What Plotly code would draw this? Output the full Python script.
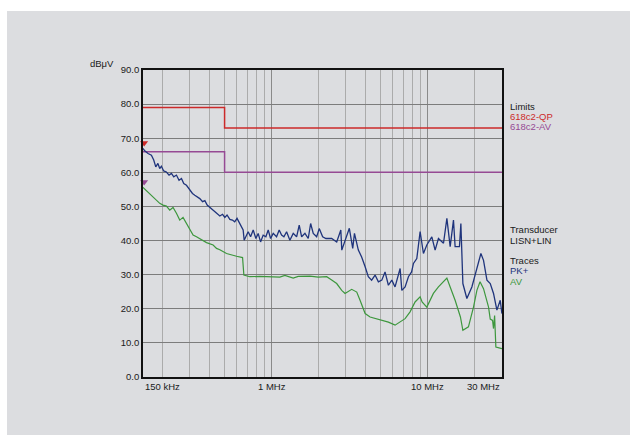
import math
import plotly.graph_objects as go

# ---------------- data ----------------
pk_freq_mhz = [0.150, 0.1538, 0.1616, 0.1698, 0.1757, 0.1811, 0.1869, 0.1920, 0.1967, 0.2036,
               0.2120, 0.2203, 0.2283, 0.2362, 0.2457, 0.2553, 0.2646, 0.2738, 0.2849, 0.2991,
               0.3113, 0.3222, 0.3334, 0.3468, 0.3614, 0.3738, 0.3868, 0.4021, 0.4184, 0.4328,
               0.4475, 0.4662, 0.4852, 0.5019, 0.5185, 0.5404, 0.5613, 0.5807, 0.6009, 0.6265,
               0.6423, 0.6577, 0.6676, 0.6847, 0.7083, 0.7340, 0.7627, 0.7938, 0.8209, 0.8505,
               0.8838, 0.9198, 0.9518, 0.9862, 1.0249, 1.077, 1.1193, 1.1597, 1.1999, 1.2488,
               1.311, 1.377, 1.4478, 1.5045, 1.559, 1.637, 1.7187, 1.7806, 1.851, 1.9462,
               2.0217, 2.1256, 2.2317, 2.343, 2.429, 2.616, 2.78, 2.82, 2.958, 3.152,
               3.314, 3.40, 3.60, 3.78, 3.98, 4.17, 4.38, 4.61, 4.84, 5.09,
               5.34, 5.61, 5.90, 6.19, 6.67, 6.84, 7.18, 7.54, 7.90, 8.12,
               8.53, 8.96, 9.41, 9.89, 10.65, 11.18, 11.74, 12.65, 13.30, 13.96,
               14.66, 15.02, 16.01, 16.35, 16.84, 17.86, 19.23, 20.71, 21.97, 22.84,
               24.02, 25.22, 26.47, 27.83, 29.22, 29.97]
pk_dbuv = [67.0, 66.3, 65.5, 65.0, 63.6, 61.6, 62.6, 61.1, 61.8, 60.4,
           60.1, 59.2, 59.7, 58.7, 59.2, 57.7, 58.2, 56.7, 56.2, 54.8,
           53.8, 53.3, 52.8, 52.3, 51.4, 51.7, 50.4, 49.7, 48.9, 48.4,
           47.9, 47.2, 47.7, 46.8, 47.5, 46.2, 46.0, 45.5, 46.5, 45.0,
           44.0, 43.1, 40.1, 41.1, 42.6, 41.1, 43.1, 40.6, 42.1, 39.6,
           41.6, 41.1, 43.1, 40.6, 42.1, 41.1, 43.1, 41.6, 41.1, 42.6,
           40.1, 42.1, 41.1, 44.5, 41.1, 42.1, 40.6, 45.0, 42.1, 41.1,
           43.5, 41.1, 40.6, 40.6, 40.6, 39.6, 43.1, 37.2, 40.0, 43.6,
           37.7, 42.1, 37.2, 35.2, 32.3, 29.4, 28.4, 29.9, 27.9, 28.4,
           30.8, 26.9, 28.4, 26.4, 31.8, 25.4, 26.4, 29.4, 30.8, 33.3,
           34.7, 42.6, 36.2, 38.7, 41.1, 37.2, 40.6, 39.2, 46.5, 38.2,
           46.0, 38.2, 38.2, 45.0, 27.4, 23.0, 26.4, 32.3, 36.2, 34.2,
           28.4, 27.4, 24.5, 19.6, 22.5, 18.6]

av_freq_mhz = [0.150, 0.1656, 0.1739, 0.1829, 0.1920, 0.2016, 0.2120, 0.2226, 0.2337, 0.2457,
               0.2580, 0.2709, 0.2849, 0.2991, 0.3141, 0.3303, 0.3468, 0.3830, 0.4222, 0.4440,
               0.4662, 0.5147, 0.5967, 0.6520, 0.6646, 0.7257, 0.8409, 1.000, 1.130, 1.217,
               1.377, 1.483, 1.763, 1.993, 2.257, 2.429, 2.616, 2.817, 2.958, 3.264,
               3.516, 3.692, 3.98, 4.28, 4.73, 5.34, 5.61, 6.19, 6.67, 7.18,
               7.725, 8.316, 8.96, 9.225, 9.89, 10.90, 11.74, 12.65, 13.30, 13.96,
               15.02, 16.24, 16.84, 18.28, 19.70, 20.71, 21.70, 22.84, 24.60, 25.22,
               26.10, 26.47, 26.90, 27.40, 28.50, 29.97]
av_dbuv = [55.6, 53.8, 52.8, 52.0, 50.9, 50.4, 50.1, 48.9, 49.7, 48.0,
           46.0, 46.8, 45.0, 43.1, 41.6, 41.1, 40.6, 39.4, 38.7, 37.7,
           37.3, 36.2, 35.4, 35.0, 29.9, 29.4, 29.5, 29.5, 29.3, 29.8,
           29.0, 29.5, 29.6, 29.3, 29.4, 28.4, 27.4, 25.4, 24.5, 25.7,
           24.9, 22.5, 18.6, 17.6, 17.1, 16.5, 16.1, 15.2, 16.1, 17.1,
           19.1, 22.0, 23.5, 22.0, 20.5, 24.5, 26.4, 28.0, 29.0, 26.4,
           22.5, 17.6, 13.7, 14.7, 20.5, 25.4, 27.9, 25.9, 20.5, 17.0,
           16.6, 14.2, 18.0, 8.8, 8.5, 8.3]

limit_freq_mhz = [0.15, 0.5, 30.0]
limit_qp_dbuv = [79.0, 73.0, 73.0]
limit_av_dbuv = [66.0, 60.0, 60.0]

marker_freq_mhz = [0.1525, 0.1525]
marker_dbuv = [68.6, 57.2]

y_tick_vals = [0, 10, 20, 30, 40, 50, 60, 70, 80, 90]
y_tick_text = ["0.0", "10.0", "20.0", "30.0", "40.0", "50.0", "60.0", "70.0", "80.0", "90.0"]
x_tick_vals = [0.15, 1, 10, 30]
x_tick_text = ["150 kHz", "1 MHz", "10 MHz", "30 MHz"]
x_minor_grid = [0.2, 0.3, 0.4, 0.5, 0.6, 0.7, 0.8, 0.9, 2, 3, 4, 5, 6, 7, 8, 9, 20]
x_major_grid = [1, 10]

# ---------------- styles ----------------
BG = "#dcdde0"
FONT = "Liberation Sans, Arial, sans-serif"
RED = "#cc2a2a"
PURPLE = "#964a94"
BLUE = "#1f347c"
GREEN = "#3d973d"
TXT = "#1a1a1a"

fig = go.Figure()

fig.add_trace(go.Scatter(x=limit_freq_mhz, y=limit_qp_dbuv, mode="lines", line_shape="hv",
                         line=dict(color=RED, width=1.5), showlegend=False))
fig.add_trace(go.Scatter(x=limit_freq_mhz, y=limit_av_dbuv, mode="lines", line_shape="hv",
                         line=dict(color=PURPLE, width=1.5), showlegend=False))
fig.add_trace(go.Scatter(x=av_freq_mhz, y=av_dbuv, mode="lines",
                         line=dict(color=GREEN, width=1.2), showlegend=False))
fig.add_trace(go.Scatter(x=pk_freq_mhz, y=pk_dbuv, mode="lines",
                         line=dict(color=BLUE, width=1.3), showlegend=False))
fig.add_trace(go.Scatter(x=marker_freq_mhz, y=marker_dbuv, mode="markers", cliponaxis=False,
                         marker=dict(symbol="triangle-down", size=7, color=[RED, PURPLE],
                                     line=dict(width=0)), showlegend=False))

fig.update_xaxes(type="log", range=[math.log10(0.15), math.log10(30)],
                 tickvals=x_major_grid, showticklabels=False, ticks="",
                 showgrid=True, gridcolor="#8a8a8a", gridwidth=1.3,
                 minor=dict(tickvals=x_minor_grid, showgrid=True, gridcolor="#ababab",
                            gridwidth=1.3, ticks=""),
                 showline=True, linecolor="#111111", linewidth=1.6, mirror=True,
                 zeroline=False)
fig.update_yaxes(range=[0, 90], tickvals=y_tick_vals, ticktext=y_tick_text, ticks="",
                 showgrid=True, gridcolor="#7c7c7c", gridwidth=1.3,
                 showline=True, linecolor="#111111", linewidth=1.6, mirror=True,
                 zeroline=False, tickfont=dict(family=FONT, size=9.5, color=TXT))

annotations = []
x_anchors = ["left", "center", "center", "right"]
for v, t, a in zip(x_tick_vals, x_tick_text, x_anchors):
    annotations.append(dict(x=math.log10(v), y=-0.03, xref="x", yref="paper", text=t,
                            showarrow=False, xanchor=a, yanchor="middle",
                            font=dict(family=FONT, size=9.5, color=TXT)))

annotations.append(dict(x=-0.1535, y=1.022, xref="paper", yref="paper", text="dBμV",
                        showarrow=False, xanchor="left", yanchor="middle",
                        font=dict(family=FONT, size=9.5, color=TXT)))

side_texts = [("Limits", TXT, 0.8826), ("618c2-QP", RED, 0.850), ("618c2-AV", PURPLE, 0.8151),
              ("Transducer", TXT, 0.4806), ("LISN+LIN", TXT, 0.4457),
              ("Traces", TXT, 0.3782), ("PK+", BLUE, 0.3456), ("AV", GREEN, 0.312)]
for t, c, yy in side_texts:
    annotations.append(dict(x=1.0156, y=yy, xref="paper", yref="paper", text=t,
                            showarrow=False, xanchor="left", yanchor="middle",
                            font=dict(family=FONT, size=9.5, color=c)))

shapes = [
    dict(type="rect", xref="paper", yref="paper", x0=-0.45, x1=-0.3788, y0=-0.3, y1=1.3,
         fillcolor="white", line=dict(width=0), layer="below"),
    dict(type="rect", xref="paper", yref="paper", x0=-0.45, x1=1.5, y0=1.1922, y1=1.3,
         fillcolor="white", line=dict(width=0), layer="below"),
]

fig.update_layout(width=630, height=435, autosize=False,
                  margin=dict(l=143, r=128, t=70, b=58, pad=0),
                  paper_bgcolor=BG, plot_bgcolor=BG,
                  font=dict(family=FONT, size=9.5, color=TXT),
                  annotations=annotations, shapes=shapes, showlegend=False)

fig.write_html("out.html", config={"displayModeBar": False},
               post_script="document.body.style.margin='0px';document.body.style.overflow='hidden';")
